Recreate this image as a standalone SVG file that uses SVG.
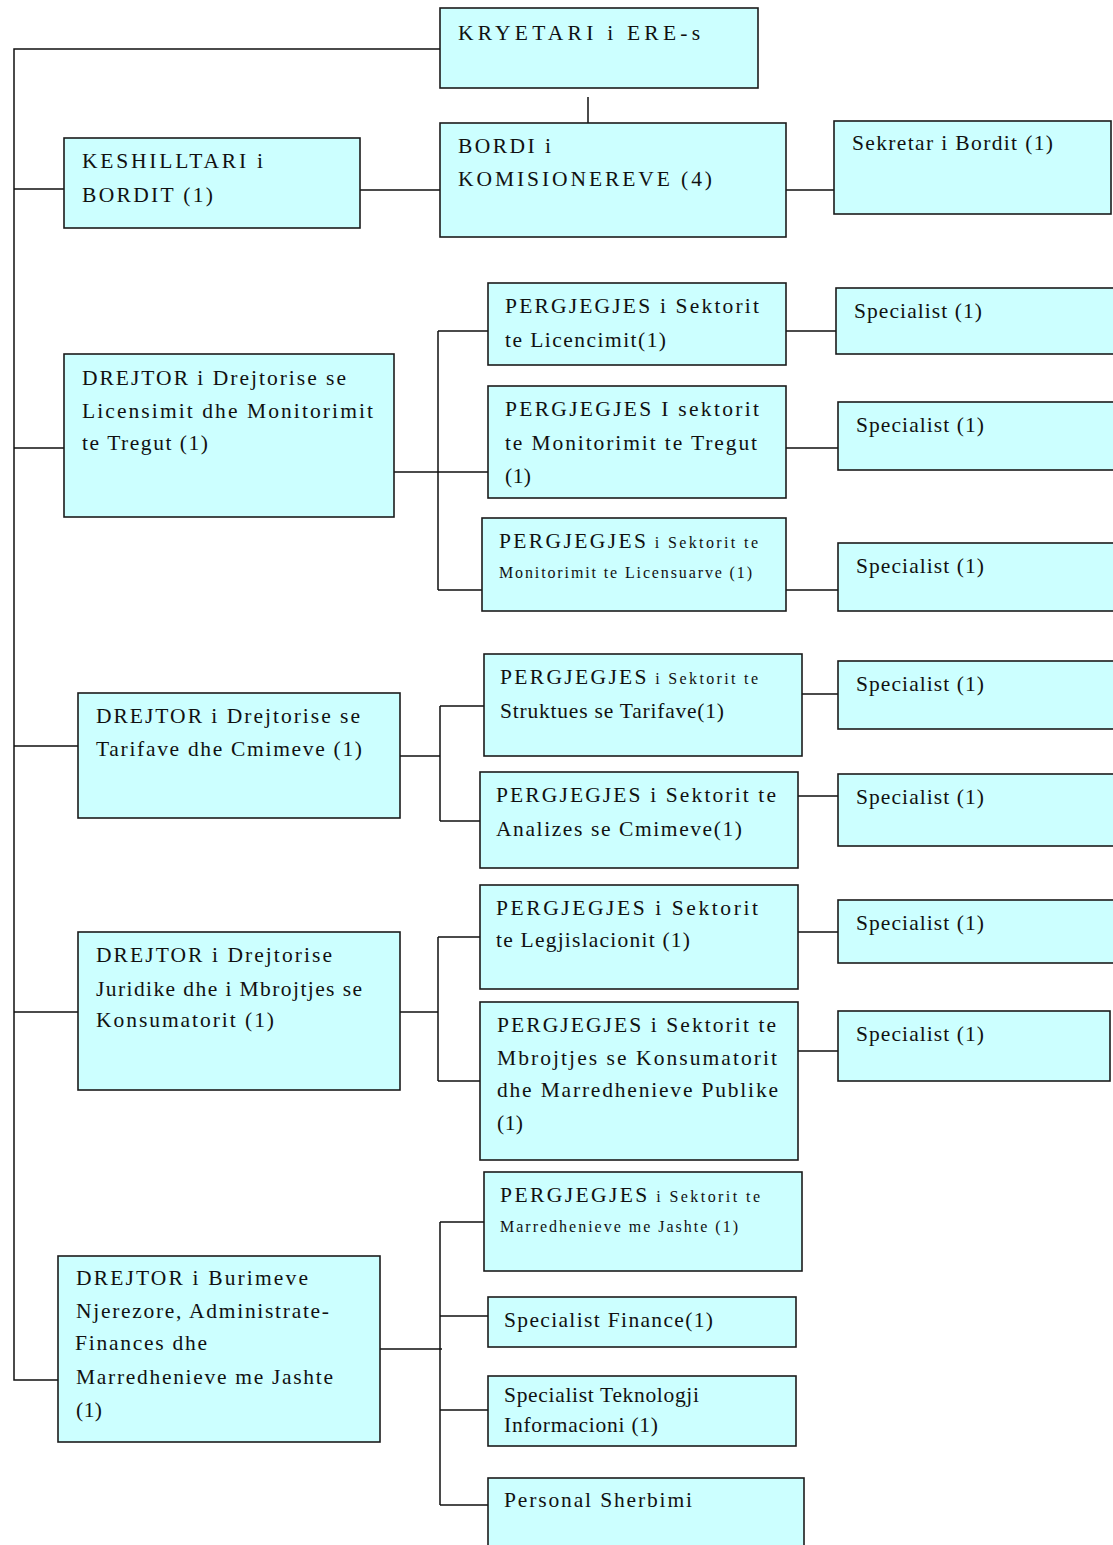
<svg xmlns="http://www.w3.org/2000/svg" width="1113" height="1545" viewBox="0 0 1113 1545">
<style>
.box{fill:#CCFFFF;stroke:#1c1c1c;stroke-width:1.6}
.t{font-family:"Liberation Serif","Times New Roman",serif;font-size:21.5px;fill:#111}
.s{font-size:16px}
.c{fill:none;stroke:#111;stroke-width:1.5}
</style>
<rect width="1113" height="1545" fill="#fff"/>
<g id="connectors">
<path class="c" d="M440 49H14V1380H58"/>
<path class="c" d="M14 189H64M360 190H440M588 97V123M786 190H836"/>
<path class="c" d="M14 448H64M14 746H78M14 1012H78"/>
<path class="c" d="M388 472H488M438 331V590M438 331H488M438 590H490"/>
<path class="c" d="M786 331H836M786 448H838M786 590H838"/>
<path class="c" d="M400 756H440M440 706V821M440 706H484M440 821H480"/>
<path class="c" d="M802 694H838M798 796H838"/>
<path class="c" d="M400 1012H438M438 937V1081M438 937H480M438 1081H480"/>
<path class="c" d="M798 932H838M798 1051H838"/>
<path class="c" d="M380 1349H442M440 1222V1505M440 1222H486M440 1316H488M440 1410H488M440 1505H488"/>
</g>
<g id="kryetari"><rect class="box" x="440" y="8" width="318" height="80"/>
<text class="t" x="458" y="40" textLength="242" lengthAdjust="spacing">KRYETARI i ERE-s</text></g>
<g id="keshilltari"><rect class="box" x="64" y="138" width="296" height="90"/>
<text class="t" x="82" y="168" textLength="181" lengthAdjust="spacing">KESHILLTARI i</text>
<text class="t" x="82" y="202" textLength="131" lengthAdjust="spacing">BORDIT (1)</text></g>
<g id="bordi"><rect class="box" x="440" y="123" width="346" height="114"/>
<text class="t" x="458" y="153" textLength="93" lengthAdjust="spacing">BORDI i</text>
<text class="t" x="458" y="186" textLength="254" lengthAdjust="spacing">KOMISIONEREVE (4)</text></g>
<g id="sekretar"><rect class="box" x="834" y="121" width="277" height="93"/>
<text class="t" x="852" y="150" textLength="201" lengthAdjust="spacing">Sekretar i Bordit (1)</text></g>
<g id="drejtor-licensimit"><rect class="box" x="64" y="354" width="330" height="163"/>
<text class="t" x="82" y="385" textLength="264" lengthAdjust="spacing">DREJTOR i Drejtorise se</text>
<text class="t" x="82" y="418" textLength="291" lengthAdjust="spacing">Licensimit dhe  Monitorimit</text>
<text class="t" x="82" y="450" textLength="126" lengthAdjust="spacing">te Tregut (1)</text></g>
<g id="pergj-licencimit"><rect class="box" x="488" y="283" width="298" height="82"/>
<text class="t" x="505" y="313" textLength="254" lengthAdjust="spacing">PERGJEGJES i Sektorit</text>
<text class="t" x="505" y="347" textLength="161" lengthAdjust="spacing">te Licencimit(1)</text></g>
<g id="pergj-tregut"><rect class="box" x="488" y="386" width="298" height="112"/>
<text class="t" x="505" y="416" textLength="254" lengthAdjust="spacing">PERGJEGJES I sektorit</text>
<text class="t" x="505" y="450" textLength="252" lengthAdjust="spacing">te Monitorimit te Tregut</text>
<text class="t" x="505" y="483" textLength="26" lengthAdjust="spacing">(1)</text></g>
<g id="pergj-licensuarve"><rect class="box" x="482" y="518" width="304" height="93"/>
<text class="t" x="499" y="548" textLength="259" lengthAdjust="spacing">PERGJEGJES<tspan class="s"> i Sektorit te</tspan></text>
<text class="t s" x="499" y="578" textLength="253" lengthAdjust="spacing">Monitorimit te Licensuarve (1)</text></g>
<g id="spec-1"><rect class="box" x="836" y="288" width="280" height="66"/>
<text class="t" x="854" y="318" textLength="128" lengthAdjust="spacing">Specialist (1)</text></g>
<g id="spec-2"><rect class="box" x="838" y="402" width="278" height="68"/>
<text class="t" x="856" y="432" textLength="128" lengthAdjust="spacing">Specialist (1)</text></g>
<g id="spec-3"><rect class="box" x="838" y="543" width="278" height="68"/>
<text class="t" x="856" y="573" textLength="128" lengthAdjust="spacing">Specialist (1)</text></g>
<g id="drejtor-tarifave"><rect class="box" x="78" y="693" width="322" height="125"/>
<text class="t" x="96" y="723" textLength="264" lengthAdjust="spacing">DREJTOR i Drejtorise se</text>
<text class="t" x="96" y="756" textLength="266" lengthAdjust="spacing">Tarifave dhe Cmimeve (1)</text></g>
<g id="pergj-tarifave"><rect class="box" x="484" y="654" width="318" height="102"/>
<text class="t" x="500" y="684" textLength="258" lengthAdjust="spacing">PERGJEGJES<tspan class="s"> i Sektorit te</tspan></text>
<text class="t" x="500" y="718" textLength="224" lengthAdjust="spacing">Struktues se Tarifave(1)</text></g>
<g id="pergj-cmimeve"><rect class="box" x="480" y="772" width="318" height="96"/>
<text class="t" x="496" y="802" textLength="280" lengthAdjust="spacing">PERGJEGJES i Sektorit te</text>
<text class="t" x="496" y="836" textLength="246" lengthAdjust="spacing">Analizes se Cmimeve(1)</text></g>
<g id="spec-4"><rect class="box" x="838" y="661" width="278" height="68"/>
<text class="t" x="856" y="691" textLength="128" lengthAdjust="spacing">Specialist (1)</text></g>
<g id="spec-5"><rect class="box" x="838" y="774" width="278" height="72"/>
<text class="t" x="856" y="804" textLength="128" lengthAdjust="spacing">Specialist (1)</text></g>
<g id="drejtor-juridike"><rect class="box" x="78" y="932" width="322" height="158"/>
<text class="t" x="96" y="962" textLength="236" lengthAdjust="spacing">DREJTOR i Drejtorise</text>
<text class="t" x="96" y="996" textLength="266" lengthAdjust="spacing">Juridike dhe i Mbrojtjes se</text>
<text class="t" x="96" y="1027" textLength="178" lengthAdjust="spacing">Konsumatorit (1)</text></g>
<g id="pergj-legjislacionit"><rect class="box" x="480" y="885" width="318" height="104"/>
<text class="t" x="496" y="915" textLength="262" lengthAdjust="spacing">PERGJEGJES  i Sektorit</text>
<text class="t" x="496" y="947" textLength="194" lengthAdjust="spacing">te Legjislacionit (1)</text></g>
<g id="pergj-mbrojtjes"><rect class="box" x="480" y="1002" width="318" height="158"/>
<text class="t" x="497" y="1032" textLength="279" lengthAdjust="spacing">PERGJEGJES i Sektorit te</text>
<text class="t" x="497" y="1065" textLength="280" lengthAdjust="spacing">Mbrojtjes se Konsumatorit</text>
<text class="t" x="497" y="1097" textLength="281" lengthAdjust="spacing">dhe Marredhenieve Publike</text>
<text class="t" x="497" y="1130" textLength="26" lengthAdjust="spacing">(1)</text></g>
<g id="spec-6"><rect class="box" x="838" y="900" width="278" height="63"/>
<text class="t" x="856" y="930" textLength="128" lengthAdjust="spacing">Specialist (1)</text></g>
<g id="spec-7"><rect class="box" x="838" y="1011" width="272" height="70"/>
<text class="t" x="856" y="1041" textLength="128" lengthAdjust="spacing">Specialist (1)</text></g>
<g id="drejtor-burimeve"><rect class="box" x="58" y="1256" width="322" height="186"/>
<text class="t" x="76" y="1285" textLength="232" lengthAdjust="spacing">DREJTOR i Burimeve</text>
<text class="t" x="76" y="1318" textLength="253" lengthAdjust="spacing">Njerezore, Administrate-</text>
<text class="t" x="75" y="1350" textLength="132" lengthAdjust="spacing">Finances dhe</text>
<text class="t" x="76" y="1384" textLength="257" lengthAdjust="spacing">Marredhenieve me Jashte</text>
<text class="t" x="76" y="1417" textLength="26" lengthAdjust="spacing">(1)</text></g>
<g id="pergj-jashte"><rect class="box" x="484" y="1172" width="318" height="99"/>
<text class="t" x="500" y="1202" textLength="260" lengthAdjust="spacing">PERGJEGJES<tspan class="s"> i Sektorit te</tspan></text>
<text class="t s" x="500" y="1232" textLength="238" lengthAdjust="spacing">Marredhenieve me Jashte (1)</text></g>
<g id="spec-finance"><rect class="box" x="488" y="1297" width="308" height="50"/>
<text class="t" x="504" y="1327" textLength="209" lengthAdjust="spacing">Specialist Finance(1)</text></g>
<g id="spec-teknologji"><rect class="box" x="488" y="1376" width="308" height="70"/>
<text class="t" x="504" y="1402" textLength="195" lengthAdjust="spacing">Specialist Teknologji</text>
<text class="t" x="504" y="1432" textLength="154" lengthAdjust="spacing">Informacioni (1)</text></g>
<g id="personal"><rect class="box" x="488" y="1478" width="316" height="80"/>
<text class="t" x="504" y="1507" textLength="188" lengthAdjust="spacing">Personal Sherbimi</text></g>
</svg>
